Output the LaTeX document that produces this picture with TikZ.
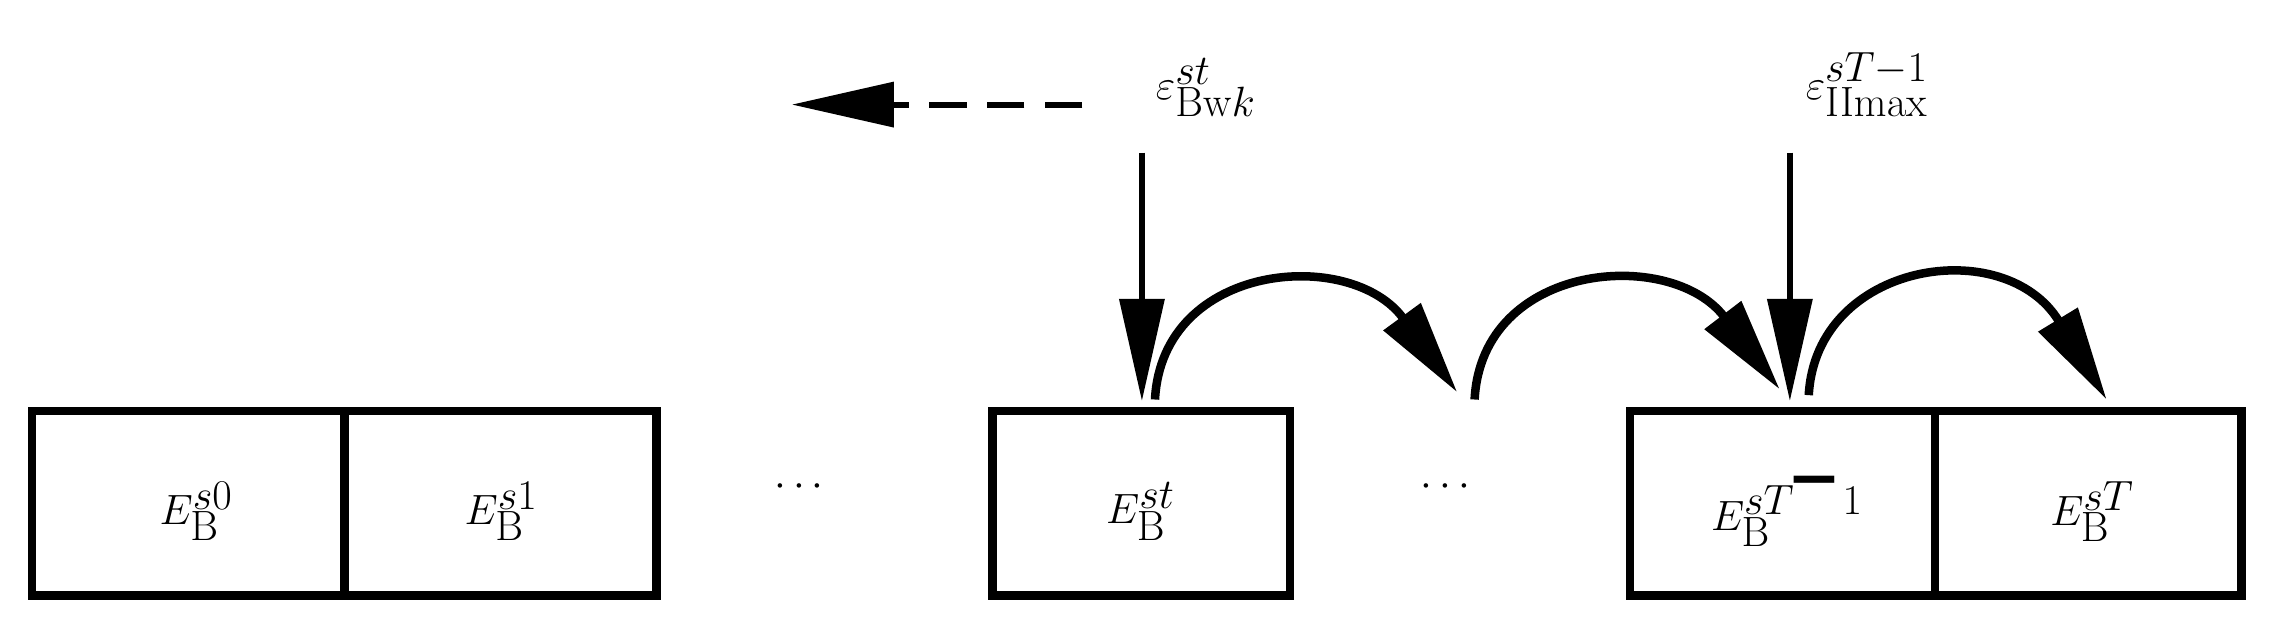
\documentclass[tikz,border=0pt]{standalone}
\usetikzlibrary{arrows.meta}
\begin{document}
\begin{tikzpicture}[x=0.3mm,y=-0.3mm,
  box/.style={draw,line width=5pt,minimum width=0pt,inner sep=0pt},
  lbl/.style={font=\fontsize{95}{100}\selectfont},
  arr/.style={line width=3.5pt,-{Triangle[length=60pt,width=26pt]}},
  carr/.style={line width=5pt,-{Triangle[length=55pt,width=26pt]}}]
\useasboundingbox (0,0) rectangle (1568,425);
\draw[box] (22,283) rectangle (452,410);
\draw[line width=5pt] (237,283) -- (237,410);
\draw[box] (683,283) rectangle (888,410);
\draw[box] (1122,283) rectangle (1543,410);
\draw[line width=5pt] (1332,283) -- (1332,410);
\node[lbl] (e0) at (135,352) {$E^{s0}_{\mathrm{B}}$};
\node[lbl] (e1) at (345,352) {$E^{s1}_{\mathrm{B}}$};
\node[lbl] (d1) at (550,335) {$\cdots$};
\node[lbl] (et) at (785,352) {$E^{st}_{\mathrm{B}}$};
\node[lbl] (d2) at (995,335) {$\cdots$};
\node[lbl] (etm) at (1230,352) {$E^{sT\mbox{-}1}_{\mathrm{B}}$};
\node[lbl] (eT) at (1440,352) {$E^{sT}_{\mathrm{B}}$};
\node[lbl,font=\fontsize{80}{90}\selectfont] (eps1) at (830,60) {$\varepsilon^{st}_{\mathrm{Bw}k}$};
\node[lbl,font=\fontsize{80}{90}\selectfont] (eps2) at (1285,58) {$\varepsilon^{sT-1}_{\mathrm{IImax}}$};
\coordinate (a1) at (786,105); \coordinate (b1) at (786,276);
\coordinate (a2) at (1232,105); \coordinate (b2) at (1232,276);
\coordinate (dl) at (545,72); \coordinate (ds) at (745,72);
\draw[arr] (a1) -- (b1);
\draw[arr] (a2) -- (b2);
\draw[arr,dash pattern=on 22pt off 12pt] (ds) -- (dl);
\coordinate (c1) at (795,275); \coordinate (c2) at (1003,270);
\coordinate (c3) at (1015,275); \coordinate (c4) at (1225,268);
\coordinate (c5) at (1245,272); \coordinate (c6) at (1450,275);
\draw[carr] (c1) .. controls (800,180) and (930,170) .. (c2);
\draw[carr] (c3) .. controls (1020,180) and (1150,170) .. (c4);
\draw[carr] (c5) .. controls (1250,180) and (1380,160) .. (c6);
\end{tikzpicture}
\end{document}
